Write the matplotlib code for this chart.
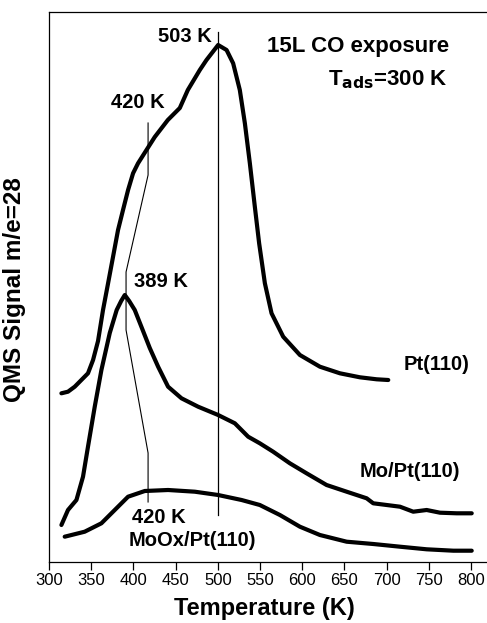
import matplotlib
matplotlib.use("Agg")
import matplotlib.pyplot as plt

plt.rcParams['font.family'] = ['Liberation Sans', 'DejaVu Sans']

# ---- data (temperature in K, signal in arbitrary units) ----
pt_T = [314.7, 322.5, 330.5, 346.2, 352.2, 358.1, 364.0, 370.0, 375.9, 381.8, 387.7,
        393.7, 399.6, 405.5, 415.5, 425.3, 440.8, 455.0, 464.5, 478.7, 486.6, 500.4,
        510.4, 518.2, 526.1, 532.1, 538.0, 543.9, 549.0, 555.8, 563.7, 577.5, 597.3,
        621.0, 644.7, 668.4, 688.2, 702.0]
pt_S = [168.7, 170.3, 175.3, 188.7, 202, 221, 252, 278.7, 305.3, 332, 352,
        372, 388.7, 398.7, 412, 425, 442, 454, 472, 492, 502, 517,
        512, 498.7, 472, 438.7, 398.7, 355.3, 318.7, 278.7, 248.7, 225.3, 207,
        195.3, 188.7, 184.7, 182.7, 182]

mo_T = [314.7, 322.5, 332.5, 340.3, 346.2, 354.2, 362.1, 372.0, 380.2, 385.5, 389.8,
        395.0, 401.6, 411.0, 419.4, 429.3, 441.1, 457.0, 476.7, 500.4, 520.2, 536.0, 549.8,
        565.6, 585.4, 605.2, 628.9, 652.7, 676.4, 684.2, 700.1, 715.9, 731.6, 747.5,
        763.3, 783.1, 800.9]
mo_S = [37, 52, 62, 85.3, 115.3, 155.3, 192, 229, 252, 261, 267,
        261, 252, 232, 214, 195.3, 175.3, 163.7, 155.3, 147, 138.7, 125.3, 118.7,
        110.3, 98.7, 88.7, 77, 70.3, 63.7, 58.7, 57, 55.3, 50.3, 52,
        49.3, 48.7, 48.7]

moox_T = [318.6, 342.3, 362.1, 377.9, 393.7, 413.5, 441.1, 472.8, 500.4, 528.2, 549.8,
          573.6, 597.3, 621.0, 652.7, 684.2, 715.9, 747.5, 779.1, 800.9]
moox_S = [25.3, 30.3, 38.7, 52, 65.3, 71, 72, 70.3, 67, 62, 57,
          47, 35.3, 27, 20.3, 18, 15.3, 12.7, 11.3, 11.3]

# annotation guide lines
peak_T = [500.4, 500.4]
peak_S = [530, 47]
guide_T = [417.4, 417.4, 391.3, 391.3, 417.4, 417.4]
guide_S = [439, 387, 290, 232, 109, 60]

xticks = [300, 350, 400, 450, 500, 550, 600, 650, 700, 750, 800]

fig = plt.figure(figsize=(4.87, 6.23), dpi=100)
ax = fig.add_axes([49 / 487, 61 / 623, 438 / 487, 550 / 623])

lw = 3.0
for T, S in [(pt_T, pt_S), (mo_T, mo_S), (moox_T, moox_S)]:
    ax.plot(T, S, color='black', lw=lw, solid_capstyle='round', solid_joinstyle='round')

ax.plot(peak_T, peak_S, color='black', lw=0.9)
ax.plot(guide_T, guide_S, color='black', lw=0.8)

ax.set_xlim(300, 819)
ax.set_ylim(0, 550)
ax.set_xticks(xticks)
ax.set_xticklabels([str(t) for t in xticks])
ax.set_yticks([])
ax.spines['right'].set_visible(False)
for s in ['left', 'top', 'bottom']:
    ax.spines[s].set_linewidth(0.9)
ax.tick_params(axis='x', direction='out', length=6, width=0.9, labelsize=12, pad=2)

ax.set_xlabel('Temperature (K)', fontsize=17, fontweight='bold')
ax.xaxis.set_label_coords(0.491, -0.085)
ax.xaxis.label.set_va('center')
ax.set_ylabel('QMS Signal m/e=28', fontsize=17.5, fontweight='bold')
ax.yaxis.set_label_coords(-0.078, 0.4945)
ax.yaxis.label.set_va('center')

tk = dict(fontsize=14.5, fontweight='bold', ha='center', va='center')
ax.text(460.6, 526, '503 K', **tk)
ax.text(405.5, 459.5, '420 K', **tk)
ax.text(432.7, 280.5, '389 K', **tk)
ax.text(430.3, 44.5, '420 K', **tk)
ax.text(469.4, 21, 'MoOx/Pt(110)', **tk)
ax.text(758.9, 197, 'Pt(110)', **tk)
ax.text(728, 90.5, 'Mo/Pt(110)', **tk)
ax.text(665.8, 515.5, '15L CO exposure', fontsize=16, fontweight='bold', ha='center', va='center')
ax.text(701.7, 482, r'T$_{\mathbf{ads}}$=300 K', fontsize=16, fontweight='bold', ha='center', va='center')

fig.savefig('out.png', dpi=100)
